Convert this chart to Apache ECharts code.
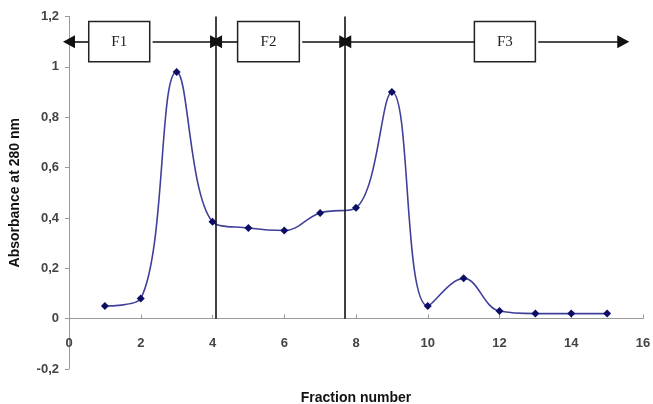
<!DOCTYPE html>
<html>
<head>
<meta charset="utf-8">
<script src="https://cdn.jsdelivr.net/npm/echarts@6/dist/echarts.min.js"></script>
<style>
  html, body { margin: 0; padding: 0; background: #fff; }
  #main { width: 653px; height: 404px; }
</style>
</head>
<body>
<div id="main"></div>
<script>
    // 数据
    var fractions = [1, 2, 3, 4, 5, 6, 7, 8, 9, 10, 11, 12, 13, 14, 15]
    var absorbance = [0.05, 0.08, 0.98, 0.385, 0.36, 0.35, 0.42, 0.44, 0.9, 0.05, 0.16, 0.03, 0.02, 0.02, 0.02]
    var boundaries = [4.1, 7.7]
    var regionNames = ['F1', 'F2', 'F3']
    var regionStart = [0, 4.1, 7.7]
    var regionEnd = [4.1, 7.7, 15.45]
    var boxStart = [0.55, 4.7, 11.3]
    var boxEnd = [2.25, 6.42, 13.0]
    var arrowY = 1.1
    var boxTop = 1.18
    var boxBottom = 1.02

    var myChart = echarts.init(document.getElementById('main'))

    var fmt = function (v) {
        return String(Math.round(v * 10) / 10).replace('.', ',')
    }

    // 箭头 (两段, 盒子两边)
    var arrowData = []
    var boxData = []
    for (var i = 0; i < regionNames.length; i++) {
        arrowData.push([{ coord: [boxStart[i], arrowY] }, { coord: [regionStart[i], arrowY] }])
        arrowData.push([{ coord: [boxEnd[i] + 0.08, arrowY] }, { coord: [regionEnd[i], arrowY] }])
        boxData.push([
            { name: regionNames[i], coord: [boxStart[i], boxTop] },
            { coord: [boxEnd[i], boxBottom] }
        ])
    }

    var points = fractions.map(function (f, i) { return [f, absorbance[i]] })

    var option = {
        backgroundColor: '#fff',
        animation: false,
        textStyle: { fontFamily: 'Liberation Sans, Arial, sans-serif' },
        grid: { left: 69, right: 10, top: 16.5, bottom: 35, containLabel: false, outerBoundsMode: 'none' },
        xAxis: {
            type: 'value',
            min: 0, max: 16, interval: 2,
            name: 'Fraction number',
            nameLocation: 'middle',
            nameGap: 22,
            nameTextStyle: { fontWeight: 'bold', fontSize: 14, color: '#111' },
            axisLine: { onZero: true, lineStyle: { color: '#999', width: 1 } },
            axisTick: { inside: true, length: 4, lineStyle: { color: '#999' } },
            axisLabel: { color: '#444', fontSize: 13, fontWeight: 'bold', margin: -32 },
            splitLine: { show: false }
        },
        yAxis: {
            type: 'value',
            min: -0.2, max: 1.2, interval: 0.2,
            name: 'Absorbance at 280 nm',
            nameLocation: 'middle',
            nameGap: 47,
            nameTextStyle: { fontWeight: 'bold', fontSize: 14, color: '#111' },
            axisLine: { show: true, lineStyle: { color: '#999', width: 1 } },
            axisTick: { show: true, length: 4, lineStyle: { color: '#999' } },
            axisLabel: { color: '#444', fontSize: 13, fontWeight: 'bold', margin: 10, formatter: fmt },
            splitLine: { show: false }
        },
        series: [
            {
                // 吸光度曲线
                name: 'absorbance',
                type: 'line',
                data: points,
                smooth: 0.4,
                symbol: 'diamond',
                symbolSize: 8,
                lineStyle: { color: '#40409a', width: 1.6 },
                itemStyle: { color: '#0d0d66' },
                z: 3
            },
            {
                // 分界线
                name: 'boundaries',
                type: 'line',
                data: [],
                markLine: {
                    silent: true,
                    symbol: 'none',
                    label: { show: false },
                    lineStyle: { color: '#111', width: 1.6, type: 'solid' },
                    data: boundaries.map(function (b) {
                        return [{ coord: [b, 0] }, { coord: [b, 1.2] }]
                    })
                },
                z: 4
            },
            {
                // 箭头和标签盒子
                name: 'regions',
                type: 'line',
                data: [],
                markLine: {
                    silent: true,
                    symbol: ['none', 'triangle'],
                    symbolSize: [13, 12],
                    label: { show: false },
                    lineStyle: { color: '#111', width: 1.6, type: 'solid' },
                    data: arrowData
                },
                markArea: {
                    silent: true,
                    itemStyle: { color: '#fff', borderColor: '#222', borderWidth: 1.5 },
                    label: {
                        show: true,
                        position: 'inside',
                        color: '#222',
                        fontSize: 15,
                        fontFamily: 'Liberation Serif, Times New Roman, serif'
                    },
                    data: boxData
                },
                z: 5
            }
        ]
    }

    myChart.setOption(option)
</script>
</body>
</html>
